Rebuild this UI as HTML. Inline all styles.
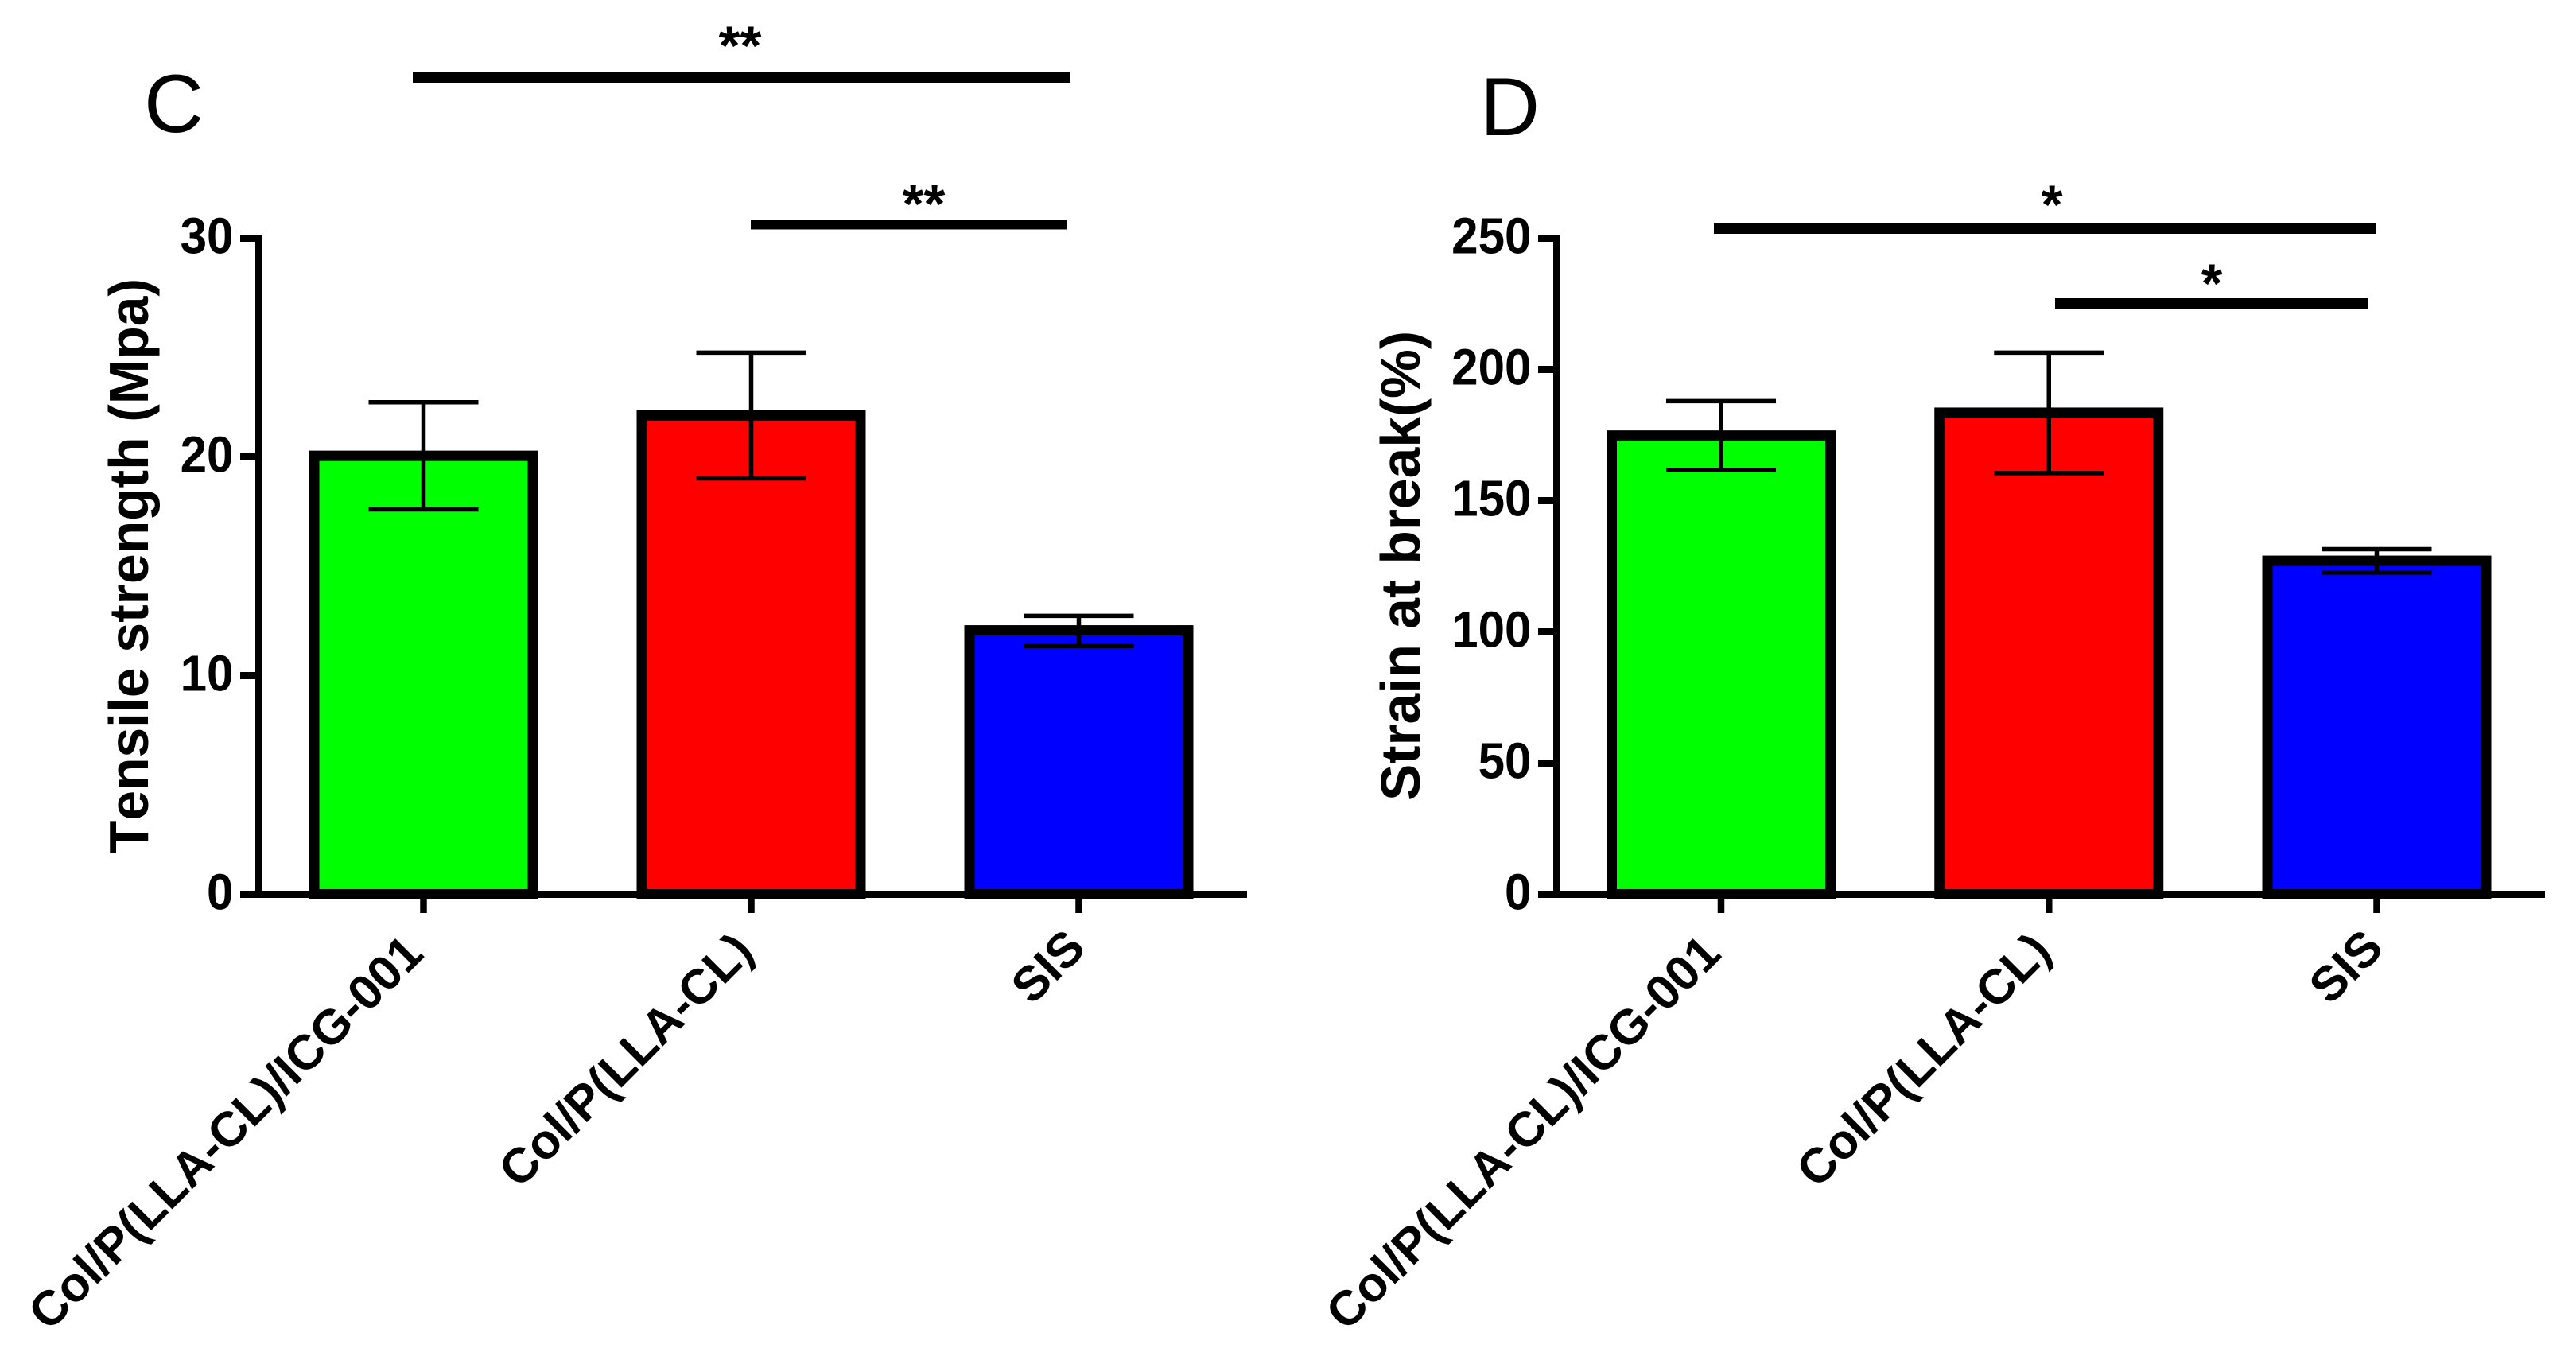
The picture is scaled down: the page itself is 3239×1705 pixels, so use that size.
<!DOCTYPE html>
<html lang="en">
<head>
<meta charset="utf-8">
<title>Tensile strength and strain at break</title>
<style>
html,body{margin:0;padding:0;background:#fff;}
svg{display:block;}
text{font-family:"Liberation Sans",Arial,sans-serif;fill:#000;font-kerning:none;}
.tick-label{font-weight:700;font-size:64px;}
.cat-label{font-weight:700;font-size:61.5px;}
.axis-title{font-weight:700;font-size:70px;}
.panel-letter{font-size:104px;}
.star{font-size:69px;font-weight:700;}
</style>
</head>
<body>
<svg id="figure" xmlns="http://www.w3.org/2000/svg" width="3239" height="1705" viewBox="0 0 3239 1705">
  <rect x="0" y="0" width="3239" height="1705" fill="#fff"/>

  <g id="panel-c"></g>
  <g id="panel-d"></g>

  <text class="panel-letter" x="181" y="166">C</text>
  <text class="panel-letter" x="1861" y="170">D</text>

  <text class="axis-title" text-anchor="middle" transform="translate(186 711.5) rotate(-90)" textLength="723" lengthAdjust="spacingAndGlyphs">Tensile strength (Mpa)</text>
  <text class="axis-title" text-anchor="middle" transform="translate(1785 711.5) rotate(-90)" textLength="591" lengthAdjust="spacingAndGlyphs">Strain at break(%)</text>

  <rect x="519" y="90" width="826" height="14" fill="#000"/>
  <text class="star" text-anchor="middle" x="930.5" y="81">**</text>
  <rect x="944" y="276" width="397" height="12.5" fill="#000"/>
  <text class="star" text-anchor="middle" x="1161.5" y="280">**</text>

  <rect x="2155" y="280" width="833" height="14" fill="#000"/>
  <text class="star" text-anchor="middle" x="2580" y="281">*</text>
  <rect x="2584" y="375" width="393" height="13" fill="#000"/>
  <text class="star" text-anchor="middle" x="2781" y="380">*</text>
</svg>

<script>
var categories = ["Col/P(LLA-CL)/ICG-001", "Col/P(LLA-CL)", "SIS"];
var barColors = ["#00ff00", "#ff0000", "#0000ff"];

var tensileTicks = [0, 10, 20, 30];
var tensileMax = [30];
var tensileValues = [20.05, 21.9, 12.07];
var tensileErrUpper = [22.5, 24.77, 12.73];
var tensileErrLower = [17.6, 19.02, 11.35];

var strainTicks = [0, 50, 100, 150, 200, 250];
var strainMax = [250];
var strainValues = [174.8, 183.5, 127.1];
var strainErrUpper = [187.9, 206.4, 131.5];
var strainErrLower = [161.7, 160.5, 122.6];

var SVG_NS = "http://www.w3.org/2000/svg";

function shape(parent, tag, props) {
  var el = document.createElementNS(SVG_NS, tag);
  for (var k in props) { el.setAttribute(k, props[k]); }
  parent.appendChild(el);
  return el;
}

function labelAnchor(i, cx) {
  if (i === 0) { return { x: cx + 2.5, y: 1202 }; }
  if (i === 1) { return { x: cx + 5.5, y: 1199 }; }
  return { x: cx + 11, y: 1195 };
}

function drawChart(host, values, errUp, errLow, ticks, maxVal, geo) {
  var y0 = 1124.5, yTop = 299.5;
  function yScale(v) { return y0 - (v / maxVal) * (y0 - yTop); }
  function xScale(i) { return geo.x0 + i * geo.step; }

  values.forEach(function (v, i) {
    var cx = xScale(i);
    var top = yScale(v);
    var bar = shape(host, "rect", {
      x: cx - 137.5, y: top, width: 275, height: y0 - top,
      fill: barColors[i], stroke: "#000", "stroke-width": 13
    });
    
    

    var yU = yScale(errUp[i]);
    var yL = yScale(errLow[i]);
    var stem = shape(host, "line", { x1: cx, x2: cx, y1: yU, y2: yL, stroke: "#000", "stroke-width": 5.5 });
    
    

    var capU = shape(host, "line", { x1: cx - 69, x2: cx + 69, y1: yU, y2: yU, stroke: "#000", "stroke-width": 5.5 });
    
    

    var capL = shape(host, "line", { x1: cx - 69, x2: cx + 69, y1: yL, y2: yL, stroke: "#000", "stroke-width": 5.5 });
    
    

    var tick = shape(host, "line", { x1: cx, x2: cx, y1: y0, y2: 1148, stroke: "#000", "stroke-width": 8.5 });
    
    

    var anchor = labelAnchor(i, cx);
    var label = shape(host, "text", {
      "class": "cat-label", "text-anchor": "end",
      transform: "translate(" + anchor.x + " " + anchor.y + ") rotate(-45)"
    });
    label.textContent = categories[i];
    
    
  });

  var yAxis = shape(host, "line", { x1: geo.axisX, x2: geo.axisX, y1: yTop - 4.5, y2: y0 + 4.5, stroke: "#000", "stroke-width": 9 });
  
  

  var xAxis = shape(host, "line", { x1: geo.axisX - 23.5, x2: geo.xEnd, y1: y0, y2: y0, stroke: "#000", "stroke-width": 9 });
  
  

  ticks.forEach(function (t) {
    var yy = yScale(t);
    var tk = shape(host, "line", { x1: geo.axisX - 23.5, x2: geo.axisX, y1: yy, y2: yy, stroke: "#000", "stroke-width": 9 });
    
    

    var lb = shape(host, "text", {
      "class": "tick-label", "text-anchor": "end",
      transform: "translate(" + (geo.axisX - 32) + " " + (yy + 19) + ") scale(0.94 1)"
    });
    lb.textContent = String(t);
    
    
  });
}

drawChart(document.getElementById("panel-c"), tensileValues, tensileErrUpper, tensileErrLower, tensileTicks, tensileMax[0],
  { x0: 532.5, step: 412, axisX: 325.5, xEnd: 1568 });
drawChart(document.getElementById("panel-d"), strainValues, strainErrUpper, strainErrLower, strainTicks, strainMax[0],
  { x0: 2164, step: 412.25, axisX: 1957.5, xEnd: 3200 });
</script>
</body>
</html>
